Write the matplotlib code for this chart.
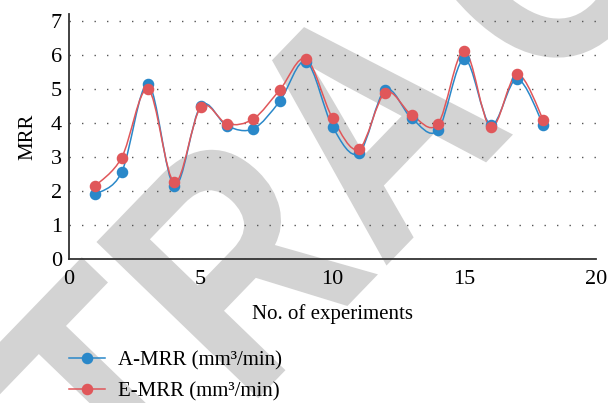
import numpy as np
import matplotlib.pyplot as plt
from matplotlib.path import Path
from matplotlib.patches import PathPatch
from matplotlib.lines import Line2D
from matplotlib.textpath import TextPath
from matplotlib.font_manager import FontProperties
from matplotlib.transforms import Affine2D

plt.rcParams["font.family"] = ["Liberation Serif", "DejaVu Serif"]

experiments = list(range(1, 19))
a_mrr = [1.90, 2.55, 5.14, 2.15, 4.50, 3.91, 3.83, 4.64, 5.80,
         3.89, 3.11, 4.97, 4.14, 3.79, 5.88, 3.94, 5.29, 3.94]
e_mrr = [2.15, 2.98, 4.99, 2.25, 4.46, 3.97, 4.12, 4.97, 5.88,
         4.14, 3.23, 4.89, 4.24, 3.97, 6.12, 3.87, 5.43, 4.09]
labels = ["A-MRR (mm³/min)", "E-MRR (mm³/min)"]

BLUE = "#2a88c9"
RED = "#e0575a"
W, H = 608, 403


def smooth_path(x, y):
    # Excel-style smoothed line: cubic bezier segments through the points
    x = np.asarray(x, float)
    y = np.asarray(y, float)
    n = len(x)
    verts = [(x[0], y[0])]
    codes = [Path.MOVETO]
    for i in range(n - 1):
        p0 = i - 1 if i > 0 else i
        p3 = i + 2 if i + 2 < n else i + 1
        c1 = (x[i] + (x[i + 1] - x[p0]) / 6, y[i] + (y[i + 1] - y[p0]) / 6)
        c2 = (x[i + 1] - (x[p3] - x[i]) / 6, y[i + 1] - (y[p3] - y[i]) / 6)
        verts += [c1, c2, (x[i + 1], y[i + 1])]
        codes += [Path.CURVE4] * 3
    return Path(verts, codes)


def watermark(fig, word="RETRACTED"):
    em, sx, track = 327, 0.83, 38
    adv = {"R": .722, "E": .667, "T": .611, "A": .722, "C": .722, "D": .722}
    fp = FontProperties(family="Liberation Sans", weight="bold")
    parts, pos = [], 0.0
    for i, ch in enumerate(word):
        shift = pos * em * sx + (track if i > 4 else 0)
        p = TextPath((0, 0), ch, size=em, prop=fp)
        parts.append(p.transformed(Affine2D().scale(sx, 1).translate(shift, 0)))
        pos += adv[ch]
    path = Path.make_compound_path(*parts)
    a_mid = (2.722 + 0.361) * em * sx
    tr = (Affine2D().translate(-a_mid, -0.365 * em).rotate_deg(46)
          .translate(364, H - 117))
    fig.add_artist(PathPatch(path, transform=tr, facecolor="#d3d3d3",
                             edgecolor="none", zorder=-5))


fig = plt.figure(figsize=(W / 100, H / 100), dpi=100)
watermark(fig)

ax = fig.add_axes([69 / W, 1 - 259 / H, 527 / W, 245 / H])
ax.set_facecolor("none")

for vals, col in [(a_mrr, BLUE), (e_mrr, RED)]:
    ax.add_patch(PathPatch(smooth_path(experiments, vals), facecolor="none",
                           edgecolor=col, lw=1.1, zorder=3))
    ax.plot(experiments, vals, "o", color=col, ms=7.3, zorder=4)

ax.set_xlim(0, 20)
ax.set_ylim(0, 7.2)
ax.set_xticks([0, 5, 10, 15, 20])
ax.set_yticks(range(0, 8))
ax.tick_params(length=0, labelsize=16)
ax.tick_params(axis="x", pad=8)
ax.tick_params(axis="y", pad=5)
ax.yaxis.grid(True, color="#555555", linestyle=(0, (1, 8)), lw=1.0)
ax.set_axisbelow(True)
for s in ["top", "right"]:
    ax.spines[s].set_visible(False)
for s in ["left", "bottom"]:
    ax.spines[s].set_color("#333333")
    ax.spines[s].set_linewidth(1.3)

ax.set_xlabel("No. of experiments", fontsize=15, labelpad=11)
ax.set_ylabel("MRR", fontsize=15, labelpad=10)

handles = [Line2D([], [], color=BLUE, marker="o", ms=7.3, lw=1.1),
           Line2D([], [], color=RED, marker="o", ms=7.3, lw=1.1)]
fig.legend(handles, labels, loc="upper left",
           bbox_to_anchor=(69 / W, 1 - 351 / H), frameon=False, fontsize=15,
           handlelength=1.73, handletextpad=0.62, labelspacing=0.55,
           borderpad=0, borderaxespad=0)

fig.savefig("out.png", dpi=100)
